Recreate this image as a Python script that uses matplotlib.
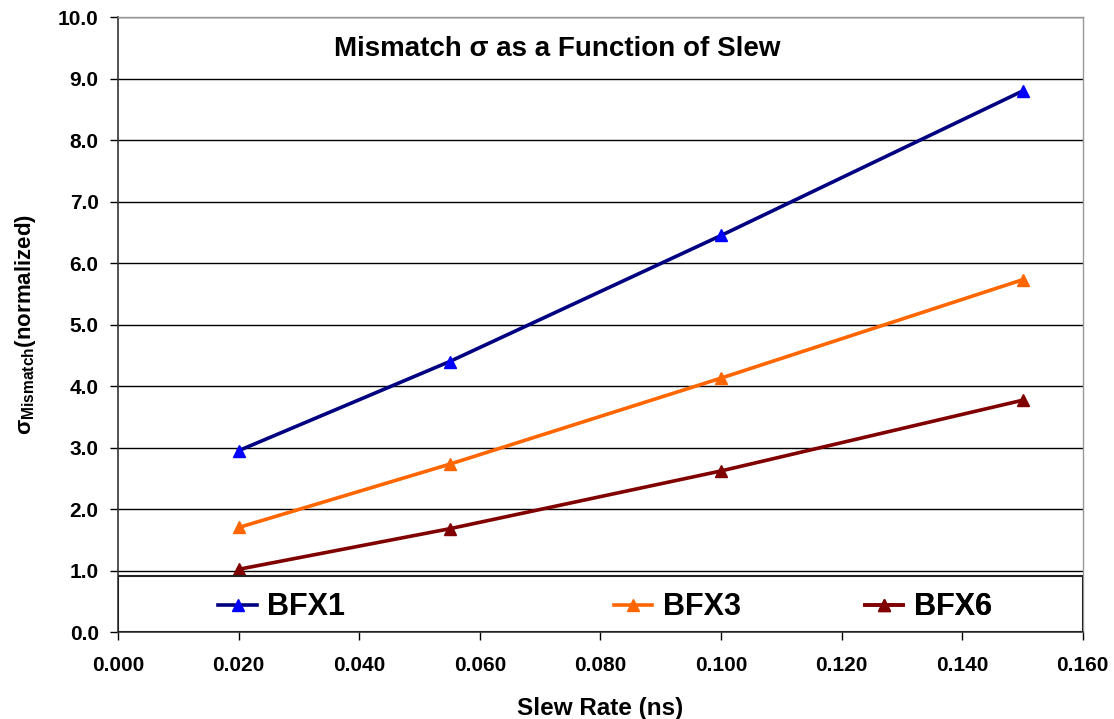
import matplotlib
matplotlib.use("Agg")
import matplotlib.pyplot as plt
from matplotlib.patches import Rectangle

# ── data ────────────────────────────────────────────────────────────────
slew = [0.020, 0.055, 0.100, 0.150]
bfx1 = [2.95, 4.40, 6.45, 8.80]
bfx3 = [1.70, 2.73, 4.13, 5.73]
bfx6 = [1.02, 1.68, 2.62, 3.77]

series = [
    ("BFX1", bfx1, "#000080", "#0000FF"),
    ("BFX3", bfx3, "#FF6600", "#FF6600"),
    ("BFX6", bfx6, "#800000", "#800000"),
]
legend_x = [0.104, 0.514, 0.774]   # left edge of each legend entry (axes frac)

plt.rcParams["font.family"] = ["Liberation Sans", "DejaVu Sans"]
plt.rcParams["font.weight"] = "bold"
plt.rcParams["mathtext.default"] = "regular"

fig = plt.figure(figsize=(11.14, 7.19), dpi=100)
ax = fig.add_axes([0.106, 0.121, 0.866, 0.855])

lines = []
for name, ys, lc, mc in series:
    ln, = ax.plot(slew, ys, color=lc, lw=2.6, marker="^", ms=9,
                  mfc=mc, mec=mc, label=name, zorder=3)
    lines.append(ln)

ax.set_xlim(0, 0.16)
ax.set_ylim(0, 10)
ax.set_xticks([i * 0.02 for i in range(9)])
ax.set_yticks(range(11))
ax.set_xticklabels([f"{i * 0.02:.3f}" for i in range(9)])
ax.set_yticklabels([f"{i:.1f}" for i in range(11)])
ax.tick_params(labelsize=15, length=6, width=1, direction="out")
ax.tick_params(axis="x", pad=11)
ax.tick_params(axis="y", pad=8)
ax.yaxis.grid(True, color="black", lw=1)
ax.set_axisbelow(True)

for s in ["left", "bottom"]:
    ax.spines[s].set_color("#333333")
    ax.spines[s].set_linewidth(1.2)
for s in ["right", "top"]:
    ax.spines[s].set_color("#999999")
    ax.spines[s].set_linewidth(1)

ax.set_xlabel("Slew Rate (ns)", fontsize=17.5, fontweight="bold", labelpad=16)
ax.set_ylabel(r"$\sigma_{Mismatch}$(normalized)", fontsize=16,
              fontweight="bold", labelpad=14)
ax.text(0.455, 0.948, "Mismatch σ as a Function of Slew", transform=ax.transAxes,
        ha="center", va="center", fontsize=20, fontweight="bold")

# legend box across the bottom of the plot
box = Rectangle((0, 0), 1, 0.091, transform=ax.transAxes, facecolor="white",
                edgecolor="#222222", lw=1.5, zorder=4)
ax.add_patch(box)
for ln, x0 in zip(lines, legend_x):
    leg = ax.legend([ln], [ln.get_label()], loc="center left",
                    bbox_to_anchor=(x0, 0.04), frameon=False, fontsize=22,
                    handlelength=1.25, handletextpad=0.35, borderpad=0,
                    borderaxespad=0)
    leg.set_zorder(5)
    ax.add_artist(leg)

fig.savefig("out.png", dpi=100)
